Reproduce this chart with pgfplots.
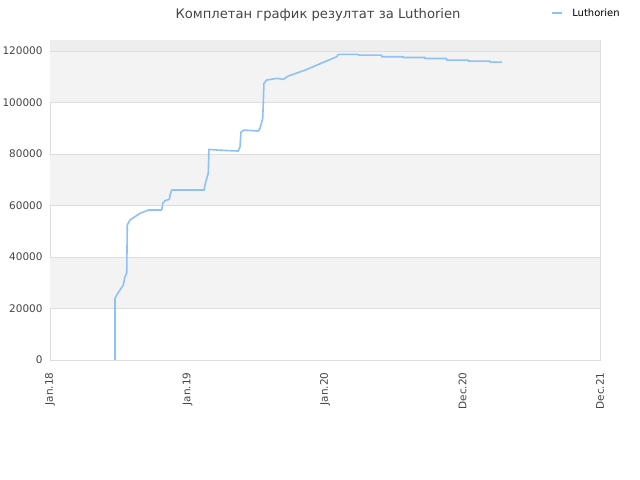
\documentclass[border=0pt]{standalone}
\usepackage{pgfplots}
\pgfplotsset{compat=1.18}
\usepackage{fontspec}
\setmainfont{DejaVu Sans}
\definecolor{lineblue}{HTML}{8EC1F4}
\definecolor{bandgray}{HTML}{F3F3F3}
\definecolor{topgray}{HTML}{EEEEEE}
\definecolor{gridgray}{HTML}{DDDDDD}
\definecolor{textgray}{HTML}{444444}

\begin{document}
\begin{tikzpicture}[x=1bp,y=1bp]
\begin{axis}[
    at={(50bp,120bp)}, anchor=south west,
    scale only axis, width=550bp, height=320bp,
    xmin=0, xmax=4,
    ymin=0, ymax=124300,
    xtick={0,1,2,3,4},
    xticklabels={Jan.18,Jan.19,Jan.20,Dec.20,Dec.21},
    ytick={0,20000,40000,60000,80000,100000,120000},
    yticklabels={0,20000,40000,60000,80000,100000,120000},
    scaled y ticks=false,
    major tick length=0pt,
    axis line style={gridgray},
    tick label style={font=\fontsize{10.5}{12}\selectfont, text=textgray},
    x tick label style={rotate=90, anchor=east, xshift=-9bp},
    y tick label style={xshift=-4bp},
    legend style={at={(0.9115,1.084)}, anchor=west, draw=none, fill=none,
        font=\fontsize{10}{12}\selectfont, inner sep=0pt,
        nodes={inner xsep=0pt}},
    legend image code/.code={\path[draw=none] (0bp,0bp) -- (20bp,0bp);
        \draw[lineblue, line width=1.6bp] (0bp,0bp) -- (10bp,0bp);},
]
% background bands and grid lines
\fill[bandgray] (axis cs:0,20000) rectangle (axis cs:4,40000);
\fill[bandgray] (axis cs:0,60000) rectangle (axis cs:4,80000);
\fill[bandgray] (axis cs:0,100000) rectangle (axis cs:4,120000);
\fill[topgray] (axis cs:0,120000) rectangle (axis cs:4,124300);
\draw[gridgray, line width=0.8bp] (axis cs:0,20000) -- (axis cs:4,20000);
\draw[gridgray, line width=0.8bp] (axis cs:0,40000) -- (axis cs:4,40000);
\draw[gridgray, line width=0.8bp] (axis cs:0,60000) -- (axis cs:4,60000);
\draw[gridgray, line width=0.8bp] (axis cs:0,80000) -- (axis cs:4,80000);
\draw[gridgray, line width=0.8bp] (axis cs:0,100000) -- (axis cs:4,100000);
\draw[gridgray, line width=0.8bp] (axis cs:0,120000) -- (axis cs:4,120000);

\addplot[color=lineblue, line width=1.6bp, line join=round] coordinates {
    (0.473,0) (0.473,23960) (0.485,25240) (0.509,27180) (0.533,29130)
    (0.545,32350) (0.558,33650) (0.562,52430) (0.582,54370) (0.618,55660)
    (0.655,56960) (0.703,57990) (0.715,58250) (0.812,58250) (0.820,60850)
    (0.836,61880) (0.868,62400) (0.873,64080) (0.885,66020) (1.122,66020)
    (1.127,67960) (1.140,70550) (1.151,72490) (1.156,81800) (1.212,81560)
    (1.309,81300) (1.369,81170) (1.382,82840) (1.389,88540) (1.413,89320)
    (1.515,88930) (1.527,89960) (1.547,93850) (1.556,107450) (1.576,108740)
    (1.649,109400) (1.697,109000) (1.733,110300) (1.855,112600) (2.085,117800)
    (2.097,118700) (2.242,118700) (2.242,118400) (2.412,118400) (2.412,117800)
    (2.569,117800) (2.569,117500) (2.727,117500) (2.727,117100) (2.885,117100)
    (2.885,116500) (3.042,116500) (3.042,116100) (3.200,116100) (3.200,115700)
    (3.289,115700)
};
\addlegendentry{Luthorien}
\end{axis}
\node[anchor=base, text=textgray, font=\fontsize{13.2}{15}\selectfont, inner sep=0pt]
    at (318,461) {Комплетан график резултат за Luthorien};
\pgfresetboundingbox
\path[use as bounding box] (0,0) rectangle (640,480);
\end{tikzpicture}
\end{document}
